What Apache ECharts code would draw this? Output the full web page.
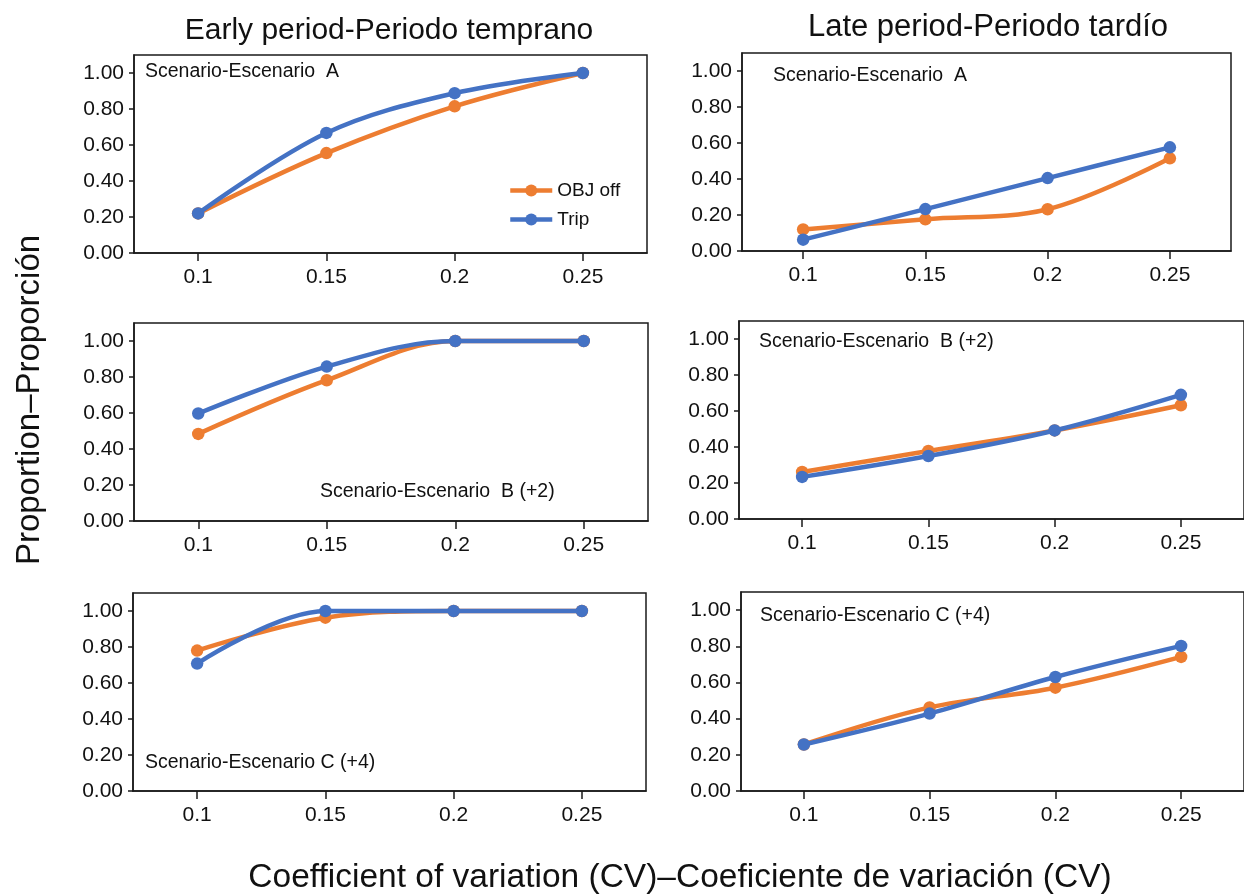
<!DOCTYPE html>
<html>
<head>
<meta charset="utf-8">
<script src="https://cdn.jsdelivr.net/npm/echarts@6/dist/echarts.min.js"></script>
<style>
  html, body { margin: 0; padding: 0; background: #ffffff; }
  #chart { width: 1244px; height: 894px; }
</style>
</head>
<body>
<div id="chart"></div>
<script>
// Coefficient of variation levels (x categories) and y tick values
const cvLevels = ['0.1', '0.15', '0.2', '0.25'];
const yTicks = [0, 0.2, 0.4, 0.6, 0.8, 1.0];

// Proportions per period and scenario
const earlyA_objOff = [0.22, 0.555, 0.815, 1.00];
const earlyA_trip   = [0.22, 0.667, 0.888, 1.00];
const lateA_objOff  = [0.12, 0.176, 0.232, 0.515];
const lateA_trip    = [0.063, 0.233, 0.405, 0.576];
const earlyB_objOff = [0.484, 0.782, 1.00, 1.00];
const earlyB_trip   = [0.597, 0.858, 1.00, 1.00];
const lateB_objOff  = [0.261, 0.378, 0.492, 0.632];
const lateB_trip    = [0.234, 0.350, 0.492, 0.690];
const earlyC_objOff = [0.780, 0.963, 1.00, 1.00];
const earlyC_trip   = [0.708, 1.00, 1.00, 1.00];
const lateC_objOff  = [0.257, 0.462, 0.571, 0.741];
const lateC_trip    = [0.257, 0.428, 0.630, 0.802];

const seriesNames = ['OBJ off', 'Trip'];
const colTitles = ['Early period-Periodo temprano', 'Late period-Periodo tardío'];
const scenarioLabels = [
  'Scenario-Escenario  A', 'Scenario-Escenario  A',
  'Scenario-Escenario  B (+2)', 'Scenario-Escenario  B (+2)',
  'Scenario-Escenario C (+4)', 'Scenario-Escenario C (+4)'
];
const yTitle = 'Proportion–Proporción';
const xTitle = 'Coefficient of variation (CV)–Coeficiente de variación (CV)';

const panelData = [
  [earlyA_objOff, earlyA_trip], [lateA_objOff, lateA_trip],
  [earlyB_objOff, earlyB_trip], [lateB_objOff, lateB_trip],
  [earlyC_objOff, earlyC_trip], [lateC_objOff, lateC_trip]
];

// Panel boxes in pixels
const panelBoxes = [
  { left: 134, top: 55,  width: 513, height: 198 },
  { left: 742, top: 53,  width: 489, height: 198 },
  { left: 134, top: 323, width: 514, height: 198 },
  { left: 739, top: 321, width: 510, height: 198 },
  { left: 133, top: 593, width: 513, height: 198 },
  { left: 741, top: 592, width: 510, height: 199 }
];
// Scenario label anchors (left x, middle y)
const labelPos = [
  [145, 72], [773, 76], [320, 492], [759, 342], [145, 763], [760, 616]
];

const COLORS = ['#ED7D31', '#4472C4'];
const FONT = 'Liberation Sans, Arial, Helvetica, sans-serif';
const INK = '#1a1a1a';

const grids = [], xAxes = [], yAxes = [], series = [], graphics = [];

panelBoxes.forEach((b, i) => {
  grids.push({
    left: b.left, top: b.top, width: b.width, height: b.height,
    show: true, borderColor: INK, borderWidth: 1.5, backgroundColor: 'transparent',
    containLabel: false
  });
  xAxes.push({
    type: 'category', gridIndex: i, data: cvLevels, boundaryGap: true,
    axisLine: { show: true, lineStyle: { color: INK, width: 1.5 } },
    axisTick: { show: true, alignWithLabel: true, length: 8, lineStyle: { color: INK, width: 1.5 } },
    axisLabel: { color: '#111', fontSize: 21, fontFamily: FONT, margin: 14 },
    splitLine: { show: false }
  });
  yAxes.push({
    type: 'value', gridIndex: i, min: 0, max: 1.1, interval: 0.2,
    axisLine: { show: true, lineStyle: { color: INK, width: 1.5 } },
    axisTick: { show: true, length: 5, customValues: yTicks, lineStyle: { color: INK, width: 1.5 } },
    axisLabel: {
      color: '#111', fontSize: 21, fontFamily: FONT, margin: 10,
      customValues: yTicks, formatter: v => v.toFixed(2)
    },
    splitLine: { show: false }
  });
  panelData[i].forEach((vals, k) => {
    series.push({
      name: seriesNames[k], type: 'line', xAxisIndex: i, yAxisIndex: i,
      data: vals, smooth: 0.35, symbol: 'circle', symbolSize: 12.5,
      lineStyle: { color: COLORS[k], width: 4.5 },
      itemStyle: { color: COLORS[k] },
      z: 2 + k
    });
  });
  graphics.push({
    type: 'text', x: labelPos[i][0], y: labelPos[i][1],
    style: {
      text: scenarioLabels[i], fill: '#111', fontSize: 19.5, fontFamily: FONT,
      textAlign: 'left', textVerticalAlign: 'middle'
    }
  });
});

// Column headings
graphics.push({
  type: 'text', x: 389, y: 31,
  style: { text: colTitles[0], fill: '#111', fontSize: 30, fontFamily: FONT, textAlign: 'center', textVerticalAlign: 'middle' }
});
graphics.push({
  type: 'text', x: 988, y: 27,
  style: { text: colTitles[1], fill: '#111', fontSize: 31, fontFamily: FONT, textAlign: 'center', textVerticalAlign: 'middle' }
});
// Shared axis titles
graphics.push({
  type: 'text', x: 30, y: 400, rotation: Math.PI / 2,
  style: { text: yTitle, fill: '#111', fontSize: 33, fontFamily: FONT, textAlign: 'center', textVerticalAlign: 'middle' }
});
graphics.push({
  type: 'text', x: 680, y: 878,
  style: { text: xTitle, fill: '#111', fontSize: 33.5, fontFamily: FONT, textAlign: 'center', textVerticalAlign: 'middle' }
});

const chart = echarts.init(document.getElementById('chart'), null, { renderer: 'canvas' });
chart.setOption({
  backgroundColor: '#ffffff',
  animation: false,
  legend: {
    data: seriesNames, orient: 'vertical', left: 503, top: 176,
    itemWidth: 42, itemHeight: 15, itemGap: 10,
    lineStyle: { width: 4.5 },
    textStyle: { fontSize: 19, fontFamily: FONT, color: '#111' }
  },
  grid: grids,
  xAxis: xAxes,
  yAxis: yAxes,
  series: series,
  graphic: graphics
});
</script>
</body>
</html>
